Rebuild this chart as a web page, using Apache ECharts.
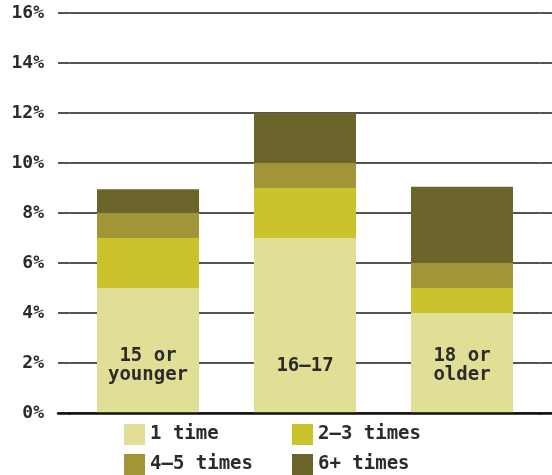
<!DOCTYPE html>
<html><head><meta charset="utf-8">
<script src="https://cdn.jsdelivr.net/npm/echarts@6/dist/echarts.min.js"></script>
<style>html,body{margin:0;padding:0;background:#fff}#c{width:552px;height:475px}</style>
</head><body><div id="c"></div>
<script>
const categories = ['15 or\nyounger', '16–17', '18 or\nolder'];
const seriesNames = ['1 time', '2–3 times', '4–5 times', '6+ times'];
const oneTime = [5, 7, 4];
const twoThree = [2, 2, 1];
const fourFive = [1, 1, 1];
const sixPlus = [0.95, 2, 3.05];
const yTicks = [0, 2, 4, 6, 8, 10, 12, 14, 16];

const colors = ['#e1de96', '#cbc32c', '#a19537', '#6c652b'];
const font = 'DejaVu Sans Mono';
const values = [oneTime, twoThree, fourFive, sixPlus];

const chart = echarts.init(document.getElementById('c'), null, {renderer: 'canvas'});
const legendPos = [[124, 424], [292, 424], [124, 454], [292, 454]];
const split = {lineStyle: {color: '#1a1a1a', width: 1.5}};
const baseLine = {show: true, onZero: false, lineStyle: {color: '#111', width: 2.5}};
const yBase = {type: 'value', min: 0, max: 16, interval: 2,
  axisLine: {show: false}, axisTick: {show: false}, splitLine: split};
const sideX = gi => ({gridIndex: gi, type: 'value', min: 0, max: 1, axisLine: baseLine,
  axisTick: {show: false}, axisLabel: {show: false}, splitLine: {show: false}});
chart.setOption({
  animation: false,
  color: colors,
  grid: [
    {left: 69.5, width: 471, top: 13, height: 400},
    {left: 58, width: 11.5, top: 13, height: 400},
    {left: 540.5, width: 11.5, top: 13, height: 400}
  ],
  legend: seriesNames.map((n, i) => ({
    data: [n], left: legendPos[i][0], top: legendPos[i][1],
    itemWidth: 21, itemHeight: 21, itemGap: 0, itemTextGap: 9, padding: 0,
    icon: 'rect', selectedMode: false,
    textStyle: {fontFamily: font, fontWeight: 'bold', fontSize: 19, color: '#2b2b2b'}
  })),
  xAxis: [
    {gridIndex: 0, type: 'category', data: categories, z: 10,
     axisLine: baseLine, axisTick: {show: false},
     axisLabel: {inside: true, margin: 47, verticalAlign: 'middle', lineHeight: 19,
       fontFamily: font, fontWeight: 'bold', fontSize: 19, color: '#2b2b2b'}},
    sideX(1), sideX(2)
  ],
  yAxis: [
    Object.assign({gridIndex: 0, axisLabel: {show: false}}, yBase),
    Object.assign({gridIndex: 1, axisLabel: {formatter: v => yTicks.includes(v) ? v + '%' : '',
      margin: 14, fontFamily: font, fontWeight: 'bold', fontSize: 18, color: '#2b2b2b'}}, yBase),
    Object.assign({gridIndex: 2, axisLabel: {show: false}}, yBase)
  ],
  series: seriesNames.map((n, i) => ({
    name: n, type: 'bar', stack: 'all', xAxisIndex: 0, yAxisIndex: 0,
    barWidth: 102, data: values[i], itemStyle: {color: colors[i]}
  }))
});
</script></body></html>
